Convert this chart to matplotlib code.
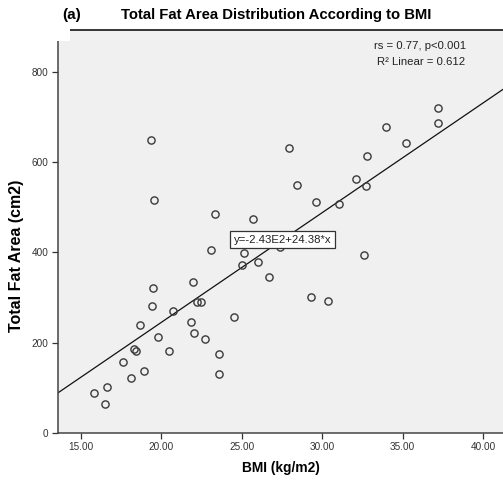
import matplotlib
matplotlib.use('Agg')
import matplotlib.pyplot as plt
import numpy as np
from matplotlib.patches import Rectangle

plt.rcParams['font.family'] = ['Liberation Sans', 'DejaVu Sans']

# BMI (kg/m2) and total fat area (cm2)
bmi = [15.83, 16.62, 16.51, 17.63, 18.14, 18.28, 18.42, 18.70, 18.95, 19.39,
       19.56, 19.41, 19.49, 19.80, 20.51, 20.72, 21.84, 21.98, 22.04, 22.25,
       22.45, 22.74, 23.10, 23.32, 23.61, 23.61, 24.53, 25.02, 25.12, 25.71,
       26.02, 26.72, 27.39, 27.93, 28.44, 29.31, 29.64, 30.35, 31.07, 32.07,
       32.58, 32.69, 32.79, 33.97, 35.22, 37.19, 37.19]
fat_area = [88.9, 101.8, 63.4, 155.8, 120.6, 184.7, 182.0, 238.5, 137.2, 650.2,
            515.6, 280.6, 321.2, 211.9, 180.2, 270.2, 246.3, 333.4, 220.8, 289.1,
            289.1, 207.5, 405.4, 485.7, 173.6, 129.2, 255.6, 372.6, 398.6, 474.6,
            378.2, 344.9, 411.4, 632.0, 549.5, 300.6, 512.7, 291.3, 506.8, 562.2,
            393.3, 547.3, 613.8, 679.7, 642.6, 720.2, 688.5]

# fit reported on the chart
intercept = -243.0
slope = 24.38

x_ticks = [15, 20, 25, 30, 35, 40]
y_ticks = [0, 200, 400, 600, 800]

fig = plt.figure(figsize=(5.03, 4.83), dpi=100)
ax = fig.add_axes([58 / 503, 1 - 432.6 / 483, 1 - 58 / 503, (432.6 - 30) / 483])
ax.set_facecolor('#f0f0f0')

xmin, xmax = 13.59, 41.23
ax.set_xlim(xmin, xmax)
ax.set_ylim(0, 894)

xs = np.array([xmin, xmax])
ax.plot(xs, intercept + slope * xs, color='#111111', lw=0.9, zorder=2)
ax.plot(bmi, fat_area, linestyle='none', marker='o', ms=5.2, mfc='none',
        mec='#3a3a3a', mew=1.0, zorder=3)

ax.set_xticks(x_ticks)
ax.set_xticklabels(['%.2f' % t for t in x_ticks])
ax.set_yticks(y_ticks)
ax.tick_params(direction='out', length=4, width=0.9, labelsize=7.2,
               labelcolor='#333333', color='#333333', pad=3)

ax.spines['right'].set_visible(False)
ax.spines['top'].set_color('black')
ax.spines['left'].set_color('#444444')
ax.spines['bottom'].set_color('#444444')
for side in ['top', 'left', 'bottom']:
    ax.spines[side].set_linewidth(1.1)

ax.set_xlabel('BMI (kg/m2)', fontsize=9.9, fontweight='bold', labelpad=6)
ax.set_ylabel('Total Fat Area (cm2)', fontsize=11.5, fontweight='bold')
ax.yaxis.set_label_coords(-0.077, 0.44)

ax.text(27.54, 428, 'y=-2.43E2+24.38*x', fontsize=8.2, ha='center', va='center',
        color='#222222', zorder=4,
        bbox=dict(boxstyle='square,pad=0.3', fc='white', ec='#333333', lw=0.9))

ax.text(374 / 503, 1 - 46 / 483, 'rs = 0.77, p<0.001', transform=fig.transFigure,
        fontsize=8.2, color='#222222', va='center', ha='left')
ax.text(377 / 503, 1 - 62 / 483, 'R² Linear = 0.612', transform=fig.transFigure,
        fontsize=8.2, color='#222222', va='center', ha='left')

fig.text(276.5 / 503, 1 - 15 / 483, 'Total Fat Area Distribution According to BMI',
         fontsize=10.7, fontweight='bold', ha='center', va='center')
fig.text(81 / 503, 1 - 15 / 483, '(a)', fontsize=11, fontweight='bold',
         ha='right', va='center')

# white patch over the top-left corner, as in the source image
fig.patches.append(Rectangle((0, 1 - 41 / 483), 70 / 503, 13 / 483,
                             transform=fig.transFigure, fc='white', ec='none',
                             zorder=10))

fig.savefig('out.png', dpi=100)
